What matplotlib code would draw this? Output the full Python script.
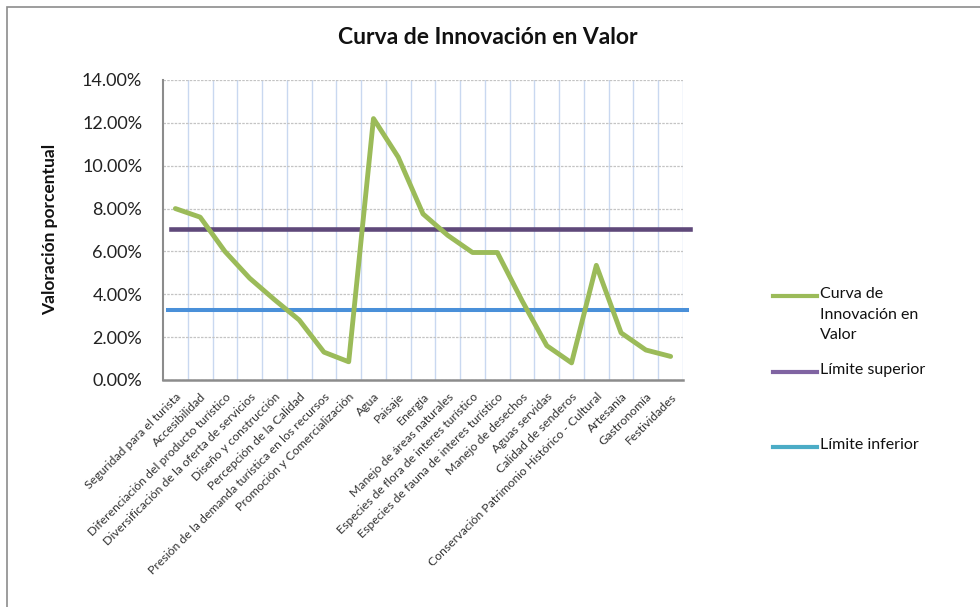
import matplotlib
matplotlib.use("Agg")
import matplotlib.pyplot as plt
from matplotlib.ticker import PercentFormatter, MultipleLocator
from matplotlib.lines import Line2D
from matplotlib.patches import Rectangle

categories = [
    "Seguridad para el turista",
    "Accesibilidad",
    "Diferenciación del producto turístico",
    "Diversificación de la oferta de servicios",
    "Diseño y construcción",
    "Percepción de la Calidad",
    "Presión de la demanda turística en los recursos",
    "Promoción y Comercialización",
    "Agua",
    "Paisaje",
    "Energía",
    "Manejo de áreas naturales",
    "Especies de flora de interes turístico",
    "Especies de fauna de interes turístico",
    "Manejo de desechos",
    "Aguas servidas",
    "Calidad de senderos",
    "Conservación Patrimonio Histórico - Cultural",
    "Artesanía",
    "Gastronomía",
    "Festividades",
]
curva = [0.080, 0.076, 0.060, 0.0475, 0.0375, 0.028, 0.013, 0.0085, 0.122, 0.104,
         0.0775, 0.0675, 0.0595, 0.0595, 0.037, 0.016, 0.008, 0.0535, 0.022, 0.014, 0.011]
limite_superior = 0.0705
limite_inferior = 0.0327

title = "Curva de Innovación en Valor"
ylabel = "Valoración porcentual"
legend_labels = ["Curva de\nInnovación en\nValor", "Límite superior", "Límite inferior"]

FONT = ["Lato", "DejaVu Sans"]
plt.rcParams["font.family"] = FONT

W, H = 980, 607
fig = plt.figure(figsize=(W / 100, H / 100), dpi=100)

# outer frame
fig.add_artist(Rectangle((7 / W, -0.1), 1.2, 1 - 7 / H + 0.1, transform=fig.transFigure,
                         fill=False, edgecolor="#8c8c8c", linewidth=1.2))

ax = fig.add_axes([163 / W, 1 - 380 / H, 520 / W, 300 / H])

x = list(range(len(categories)))
ax.plot(x, curva, color="#9BBB59", linewidth=3.5, solid_joinstyle="round",
        solid_capstyle="round", zorder=4)
ax.axhline(limite_superior, xmin=0.015, xmax=1.013, color="#5F497A", linewidth=3.3,
           clip_on=False, zorder=3)
ax.axhline(limite_inferior, xmin=0.010, xmax=1.008, color="#4A90D9", linewidth=2.9,
           clip_on=False, zorder=3)

ax.set_xlim(-0.5, len(categories) - 0.5)
ax.set_ylim(0, 0.14)
ax.yaxis.set_major_locator(MultipleLocator(0.02))
ax.yaxis.set_major_formatter(PercentFormatter(xmax=1, decimals=2))

# gridlines: horizontal gray dashed, vertical light blue at category boundaries
ax.set_xticks(x)
ax.set_xticks([i - 0.5 for i in range(1, len(categories) + 1)], minor=True)
ax.grid(axis="y", which="major", color="#C4C4C4", linestyle=(0, (2, 1)), linewidth=0.9)
ax.grid(axis="x", which="minor", color="#C9D8F0", linestyle="-", linewidth=1.0)
ax.grid(axis="x", which="major", visible=False)
ax.set_axisbelow(True)

ax.set_xticklabels(categories, rotation=45, ha="right", rotation_mode="anchor",
                   fontsize=8.8, color="#333333")
ax.tick_params(axis="x", which="both", length=0, pad=8)
ax.tick_params(axis="y", length=0, pad=15, labelsize=13, colors="#222222")

for s in ["top", "right"]:
    ax.spines[s].set_visible(False)
ax.spines["left"].set_color("#8c8c8c")
ax.spines["left"].set_linewidth(1.5)
ax.spines["bottom"].set_color("#8c8c8c")
ax.spines["bottom"].set_linewidth(1.8)

fig.text(488 / W, 1 - 37 / H, title, ha="center", va="center", fontsize=16.5,
         fontweight="bold", color="#111111")
fig.text(50 / W, 1 - 229 / H, ylabel, ha="center", va="center", rotation=90,
         fontsize=12.5, fontweight="bold", color="#111111")

# legend
leg_colors = ["#9BBB59", "#8064A2", "#4BACC6"]
leg_y = [296, 372, 447]
for c, yy, lab in zip(leg_colors, leg_y, legend_labels):
    fig.add_artist(Line2D([773 / W, 817 / W], [1 - yy / H, 1 - yy / H],
                          transform=fig.transFigure, color=c, linewidth=3.0))
    fig.text(820 / W, 1 - (yy - 9) / H, lab, ha="left", va="top", fontsize=11.5,
             color="#111111", linespacing=1.6)

fig.savefig("out.png", dpi=100)
